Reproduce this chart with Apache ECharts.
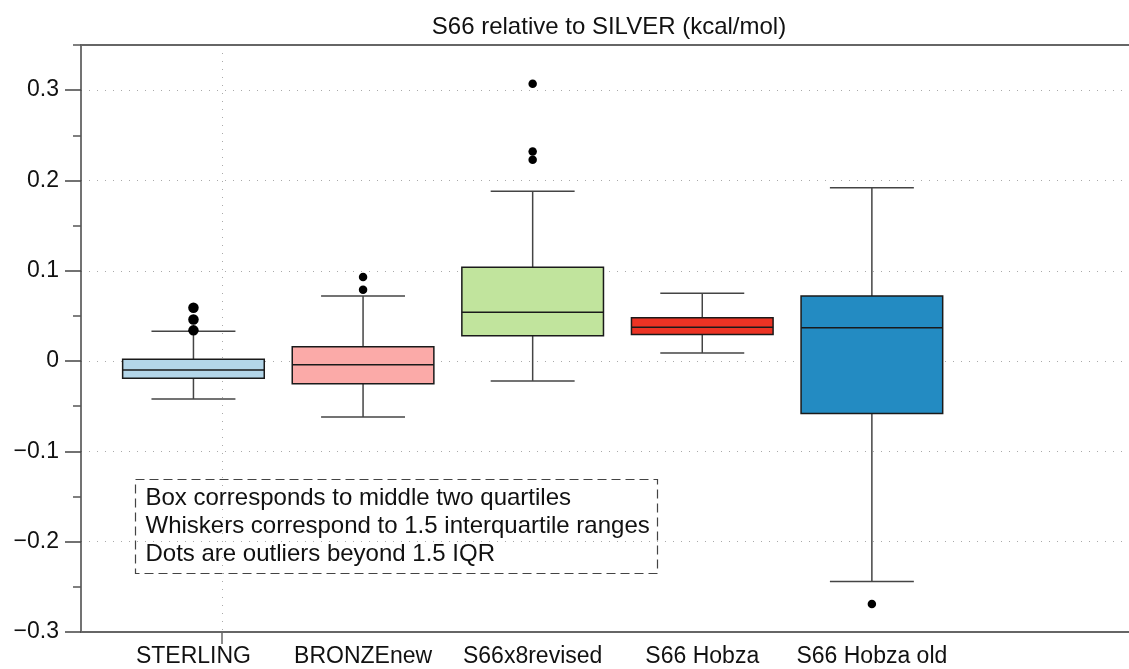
<!DOCTYPE html>
<html>
  <head>
    <meta charset="utf-8" />
    <title>S66 relative to SILVER</title>
    <script src="https://cdn.jsdelivr.net/npm/echarts@6/dist/echarts.min.js"></script>
    <style>
      html, body { margin: 0; padding: 0; background: #fff; }
      #box { width: 1129px; height: 669px; }
    </style>
  </head>
  <body>
    <div id="box"></div>
    <script>
      // categories and their slot on the x value axis
      var names = ['STERLING', 'BRONZEnew', 'S66x8revised', 'S66 Hobza', 'S66 Hobza old'];
      var slots = [1, 2, 3, 4, 5];
      // box stats: [lower whisker, Q1, median, Q3, upper whisker]
      var lowW = [-0.042, -0.062, -0.022, 0.009, -0.244];
      var q1 = [-0.019, -0.025, 0.028, 0.0295, -0.058];
      var med = [-0.010, -0.004, 0.054, 0.0375, 0.037];
      var q3 = [0.002, 0.016, 0.104, 0.048, 0.072];
      var highW = [0.033, 0.072, 0.188, 0.075, 0.192];
      // outliers per category
      var outliers = [
        [0.034, 0.046, 0.059],
        [0.079, 0.093],
        [0.223, 0.232, 0.307],
        [],
        [-0.269]
      ];
      var boxColors = ['#b3d6e9', '#fbaaa8', '#c1e49d', '#ec3324', '#238bc2'];
      var majorTicks = [-0.3, -0.2, -0.1, 0, 0.1, 0.2, 0.3];
      var minorTicks = [-0.25, -0.15, -0.05, 0.05, 0.15, 0.25, 0.35];
      var markX = [1.168];
      var note = [
        'Box corresponds to middle two quartiles',
        'Whiskers correspond to 1.5 interquartile ranges',
        'Dots are outliers beyond 1.5 IQR'
      ];

      var font = '"Liberation Sans", Arial, Helvetica, sans-serif';
      var boxW = 0.835, capW = 0.495;

      var boxData = slots.map(function (x, i) {
        return [x, lowW[i], q1[i], med[i], q3[i], highW[i]];
      });
      var dotData = [];
      outliers.forEach(function (arr, i) {
        arr.forEach(function (v) { dotData.push([slots[i], v]); });
      });

      function fmtY(v) {
        if (Math.abs(v) < 1e-9) return '0';
        return (v < 0 ? '\u2212' : '') + Math.abs(v).toFixed(1);
      }

      var chart = echarts.init(document.getElementById('box'));
      var option = {
        backgroundColor: '#fff',
        animation: false,
        title: {
          text: 'S66 relative to SILVER (kcal/mol)',
          left: 609,
          top: 15,
          textAlign: 'center',
          padding: 0,
          textStyle: { fontFamily: font, fontSize: 24, fontWeight: 'normal', color: '#111' }
        },
        grid: { left: 81, right: 0, top: 45, bottom: 37, outerBoundsMode: 'none' },
        xAxis: [{
          type: 'value',
          min: 0.337,
          max: 6.516,
          axisLine: { show: true, onZero: false, lineStyle: { color: '#666', width: 2 } },
          axisTick: { show: true, customValues: markX, length: 12, lineStyle: { color: '#666', width: 1.5 } },
          axisLabel: {
            customValues: slots,
            margin: 13,
            fontFamily: font, fontSize: 23, color: '#111',
            formatter: function (v) { return names[Math.round(v) - 1]; }
          },
          splitLine: { show: true, lineStyle: { color: '#aaa', type: [1, 7], width: 1 } }
        }, {
          type: 'value',
          position: 'top',
          min: 0.337,
          max: 6.516,
          axisLine: { show: true, onZero: false, lineStyle: { color: '#666', width: 2 } },
          axisTick: { show: false },
          axisLabel: { show: false },
          splitLine: { show: false }
        }],
        yAxis: [{
          type: 'value',
          position: 'left',
          min: -0.3,
          max: 0.35,
          interval: 0.1,
          axisLine: { show: true, onZero: false, lineStyle: { color: '#444', width: 1.5 } },
          axisTick: { show: true, customValues: majorTicks, length: 16, lineStyle: { color: '#444', width: 1.5 } },
          axisLabel: {
            customValues: majorTicks,
            margin: 22,
            fontFamily: font, fontSize: 23, color: '#111',
            formatter: fmtY
          },
          splitLine: { show: true, lineStyle: { color: '#aaa', type: [1, 7], width: 1 } }
        }, {
          type: 'value',
          position: 'left',
          offset: 0,
          min: -0.3,
          max: 0.35,
          axisLine: { show: false, onZero: false },
          axisTick: { show: true, customValues: minorTicks, length: 8, lineStyle: { color: '#555', width: 1.5 } },
          axisLabel: { show: false },
          splitLine: { show: false }
        }],
        series: [{
          type: 'custom',
          xAxisIndex: 0,
          yAxisIndex: 0,
          data: boxData,
          encode: { x: 0, y: [1, 2, 3, 4, 5] },
          renderItem: function (params, api) {
            var x = api.value(0);
            var lo = api.coord([x, api.value(1)]);
            var pq1 = api.coord([x, api.value(2)]);
            var pm = api.coord([x, api.value(3)]);
            var pq3 = api.coord([x, api.value(4)]);
            var hi = api.coord([x, api.value(5)]);
            var bw = api.size([boxW, 0])[0];
            var cw = api.size([capW, 0])[0];
            var cx = lo[0];
            var wStyle = { stroke: '#444', lineWidth: 1.5 };
            return {
              type: 'group',
              children: [
                { type: 'line', shape: { x1: cx, y1: pq3[1], x2: cx, y2: hi[1] }, style: wStyle },
                { type: 'line', shape: { x1: cx, y1: pq1[1], x2: cx, y2: lo[1] }, style: wStyle },
                { type: 'line', shape: { x1: cx - cw / 2, y1: hi[1], x2: cx + cw / 2, y2: hi[1] }, style: wStyle },
                { type: 'line', shape: { x1: cx - cw / 2, y1: lo[1], x2: cx + cw / 2, y2: lo[1] }, style: wStyle },
                {
                  type: 'rect',
                  shape: { x: cx - bw / 2, y: pq3[1], width: bw, height: pq1[1] - pq3[1] },
                  style: { fill: boxColors[params.dataIndex], stroke: '#1a1a1a', lineWidth: 1.5 }
                },
                { type: 'line', shape: { x1: cx - bw / 2, y1: pm[1], x2: cx + bw / 2, y2: pm[1] }, style: { stroke: '#1a1a1a', lineWidth: 1.5 } }
              ]
            };
          }
        }, {
          type: 'scatter',
          xAxisIndex: 0,
          yAxisIndex: 0,
          data: dotData,
          symbol: 'circle',
          symbolSize: function (v) { return v[0] === 1 ? 10.5 : 8.5; },
          itemStyle: { color: '#000', opacity: 1 },
          z: 3
        }],
        graphic: [{
          type: 'group',
          left: 133,
          top: 477,
          children: [{
            type: 'rect',
            shape: { x: 0, y: 0, width: 522, height: 94 },
            style: { fill: 'none', stroke: '#444', lineWidth: 1.2, lineDash: [9, 5] }
          }, {
            type: 'text',
            x: 10,
            y: 5,
            style: {
              text: note.join('\n'),
              font: '24px ' + font,
              fill: '#111',
              lineHeight: 28
            }
          }]
        }]
      };
      chart.setOption(option);
    </script>
  </body>
</html>
